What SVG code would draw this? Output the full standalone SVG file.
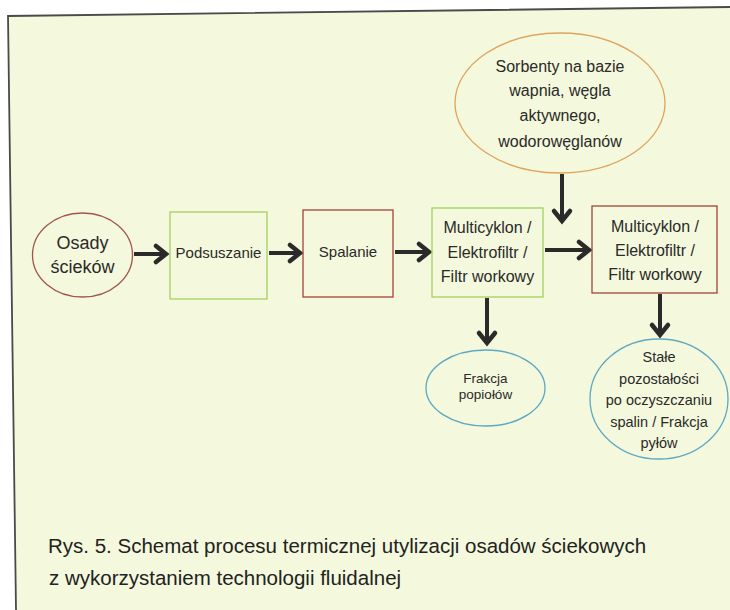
<svg xmlns="http://www.w3.org/2000/svg" width="730" height="610" viewBox="0 0 730 610">
  <defs>
    <marker id="arr" markerUnits="userSpaceOnUse" markerWidth="20" markerHeight="24" viewBox="-14 -12 20 24" refX="0" refY="0" orient="auto">
      <path d="M-10,-8 L0,0 L-10,8" fill="none" stroke="#2a2a2a" stroke-width="4.5" stroke-linecap="round" stroke-linejoin="miter"/>
    </marker>
  </defs>
  <style>
    text { font-family: "Liberation Sans", Arial, sans-serif; fill: #2a2a2a; text-anchor: middle; }
    .green { fill: none; stroke: #a6cf63; stroke-width: 1.3; }
    .red { fill: none; stroke: #a8433a; stroke-width: 1.3; }
    .orange { fill: none; stroke: #e0a35a; stroke-width: 1.3; }
    .blue { fill: none; stroke: #5ea8c2; stroke-width: 1.3; }
    .brown { fill: none; stroke: #a0564c; stroke-width: 1.3; }
    .box { font-size: 16px; }
    .conn { fill: none; stroke: #2a2a2a; stroke-width: 4; marker-end: url(#arr); }
    .cap { font-size: 20.5px; text-anchor: start; fill: #222; }
  </style>
  <rect x="0" y="0" width="730" height="610" fill="#ffffff"/>
  <polygon points="8,16 730,7 730,610 16,610" fill="#f4f8dc"/>
  <polyline points="730,7 8,16 16,610" fill="none" stroke="#4a4a4a" stroke-width="1.8"/>

  <g id="connectors">
    <line class="conn" x1="134" y1="254" x2="166" y2="254"/>
    <line class="conn" x1="269" y1="253" x2="300" y2="253"/>
    <line class="conn" x1="395" y1="252" x2="429" y2="252"/>
    <line class="conn" x1="545" y1="250" x2="589" y2="250"/>
    <line class="conn" x1="562" y1="174" x2="562" y2="221"/>
    <line class="conn" x1="487" y1="298" x2="487" y2="343"/>
    <line class="conn" x1="660" y1="294" x2="660" y2="335"/>
  </g>

  <g id="osady">
    <ellipse class="brown" cx="82.5" cy="255" rx="50" ry="42"/>
    <text x="82.5" y="249" font-size="18">Osady</text>
    <text x="82.5" y="273" font-size="18">ścieków</text>
  </g>

  <g id="podsuszanie">
    <rect class="green" x="170" y="212" width="97" height="87"/>
    <text x="218.5" y="258" font-size="15">Podsuszanie</text>
  </g>

  <g id="spalanie">
    <rect class="red" x="303" y="210" width="90" height="87"/>
    <text x="348" y="257" font-size="15">Spalanie</text>
  </g>

  <g id="filtr1">
    <rect class="green" x="432" y="208" width="111" height="89"/>
    <text class="box" x="487.5" y="233">Multicyklon /</text>
    <text class="box" x="487.5" y="258">Elektrofiltr /</text>
    <text class="box" x="487.5" y="282">Filtr workowy</text>
  </g>

  <g id="filtr2">
    <rect class="red" x="592" y="206" width="125" height="87"/>
    <text class="box" x="655" y="232">Multicyklon /</text>
    <text class="box" x="655" y="256">Elektrofiltr /</text>
    <text class="box" x="655" y="280">Filtr workowy</text>
  </g>

  <g id="sorbenty">
    <ellipse class="orange" cx="560" cy="103" rx="105" ry="70"/>
    <text class="box" x="560" y="72">Sorbenty na bazie</text>
    <text class="box" x="560" y="96">wapnia, węgla</text>
    <text class="box" x="560" y="121">aktywnego,</text>
    <text class="box" x="560" y="147">wodorowęglanów</text>
  </g>

  <g id="frakcja-popiolow">
    <ellipse class="blue" cx="485.5" cy="388" rx="59.5" ry="38"/>
    <text x="485.5" y="383" font-size="13.5">Frakcja</text>
    <text x="485.5" y="399" font-size="13.5">popiołów</text>
  </g>

  <g id="stale-pozostalosci">
    <ellipse class="blue" cx="659" cy="399" rx="69" ry="60"/>
    <text x="659" y="362" font-size="14.5">Stałe</text>
    <text x="659" y="383.5" font-size="14.5">pozostałości</text>
    <text x="659" y="405" font-size="14.5">po oczyszczaniu</text>
    <text x="659" y="427" font-size="14.5">spalin / Frakcja</text>
    <text x="659" y="448" font-size="14.5">pyłów</text>
  </g>

  <g id="caption">
    <text class="cap" x="48" y="553">Rys. 5. Schemat procesu termicznej utylizacji osadów ściekowych</text>
    <text class="cap" x="49" y="585">z wykorzystaniem technologii fluidalnej</text>
  </g>
</svg>
